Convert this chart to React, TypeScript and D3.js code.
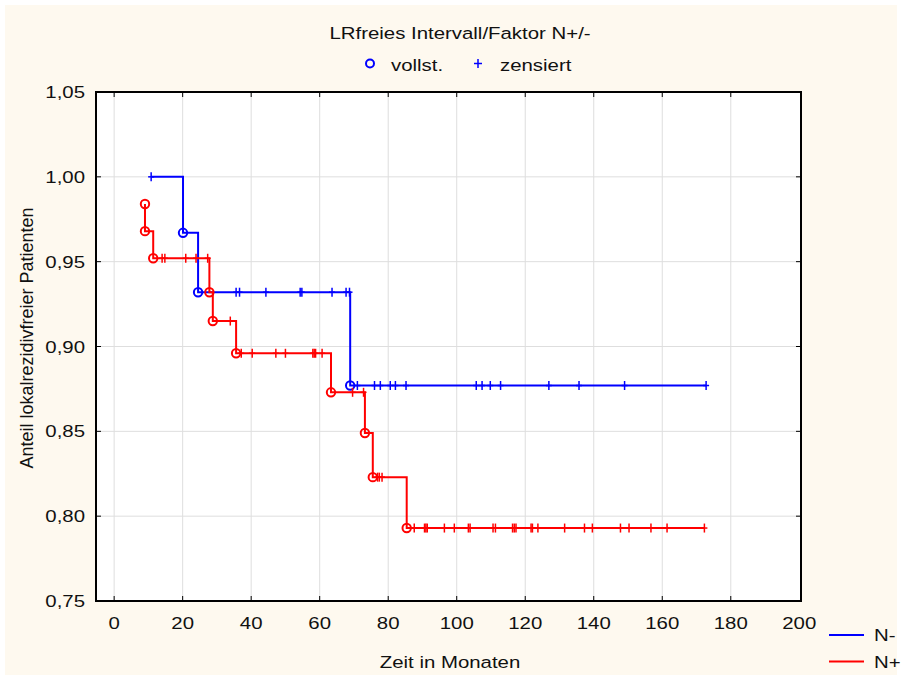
import React from "react";
import * as d3 from "d3";

// Kaplan-Meier steps: [time in months, proportion free of local recurrence]
const stepsNeg: [number, number][] = [
  [10.8, 1.0],
  [20.1, 0.967],
  [24.5, 0.932],
  [68.9, 0.877],
];
const endNeg = 172.8;
const censoredNeg = [
  10.8, 35.6, 36.6, 44.3, 54.3, 54.8, 63.6, 67.7, 68.7, 71.0, 76.0, 77.7, 80.6,
  82.1, 85.2, 105.7, 107.4, 109.8, 112.8, 126.9, 135.7, 149.0, 172.8,
];

const stepsPos: [number, number][] = [
  [9.0, 0.984],
  [9.0, 0.968],
  [11.4, 0.952],
  [27.8, 0.932],
  [28.8, 0.915],
  [35.6, 0.896],
  [63.3, 0.873],
  [73.2, 0.849],
  [75.5, 0.823],
  [85.4, 0.793],
];
const endPos = 172.4;
const censoredPos = [
  14.0, 14.8, 20.9, 23.9, 27.3, 33.9, 37.1, 40.3, 47.2, 50.0, 58.0, 58.4, 58.8,
  60.7, 69.6, 72.8, 76.9, 77.4, 78.2, 87.6, 90.6, 91.0, 91.4, 96.4, 99.3, 103.4,
  103.9, 110.6, 111.3, 116.3, 116.8, 117.3, 121.7, 122.1, 123.7, 131.5, 137.3,
  139.6, 147.8, 150.3, 156.7, 161.4, 172.3,
];

const xTicks = [0, 20, 40, 60, 80, 100, 120, 140, 160, 180, 200];
const yTicks = [0.75, 0.8, 0.85, 0.9, 0.95, 1.0, 1.05];

const series = [
  { name: "N-", color: "#0000ff", steps: stepsNeg, end: endNeg, censored: censoredNeg },
  { name: "N+", color: "#ff0000", steps: stepsPos, end: endPos, censored: censoredPos },
];

const W = 902;
const H = 680;
const plot = { left: 96, right: 801, top: 92, bottom: 601 };
const FONT = "'Liberation Sans', Arial, sans-serif";
const SX = 1.2; // horizontal stretch of the label font

type TxtProps = {
  x: number;
  y: number;
  anchor?: "start" | "middle" | "end";
  size?: number;
  sx?: number;
  children: React.ReactNode;
};

function Txt({ x, y, anchor = "start", size = 17, sx = SX, children }: TxtProps) {
  return (
    <text
      transform={`translate(${x},${y}) scale(${sx},1)`}
      textAnchor={anchor}
      fontFamily={FONT}
      fontSize={size}
      fill="#111"
    >
      {children}
    </text>
  );
}

export default function App() {
  const x = d3.scaleLinear().domain([-5.3, 200.5]).range([plot.left, plot.right]);
  const y = d3.scaleLinear().domain([0.75, 1.05]).range([plot.bottom, plot.top]);
  const fmt = (v: number) => v.toFixed(2).replace(".", ",");

  const line = d3
    .line<[number, number]>()
    .x((d) => x(d[0]))
    .y((d) => y(d[1]))
    .curve(d3.curveStepAfter);

  // survival level in effect at time t (right-continuous step)
  const levelAt = (steps: [number, number][], t: number) => {
    let s = steps[0][1];
    for (const [ti, si] of steps) if (ti <= t) s = si;
    return s;
  };

  return (
    <svg width={W} height={H} style={{ display: "block", position: "absolute", left: 0, top: 0 }}>
      <rect x={0} y={0} width={W} height={H} fill="#ffffff" />
      <rect x={5} y={5} width={W - 10} height={H - 10} fill="#fef9ef" />
      <rect
        x={plot.left}
        y={plot.top}
        width={plot.right - plot.left}
        height={plot.bottom - plot.top}
        fill="#ffffff"
      />
      {/* grid */}
      {xTicks.filter((t) => t < 200).map((t) => (
        <line key={"gx" + t} x1={x(t)} x2={x(t)} y1={plot.top} y2={plot.bottom} stroke="#dedede" strokeWidth={1} />
      ))}
      {yTicks.slice(1, -1).map((t) => (
        <line key={"gy" + t} x1={plot.left} x2={plot.right} y1={y(t)} y2={y(t)} stroke="#dedede" strokeWidth={1} />
      ))}
      {/* curves */}
      {series.map((s) => {
        const pts: [number, number][] = [...s.steps, [s.end, s.steps[s.steps.length - 1][1]]];
        return (
          <g key={s.name}>
            <path d={line(pts) || ""} fill="none" stroke={s.color} strokeWidth={2} />
            {s.censored.map((t, i) => {
              const cy = y(levelAt(s.steps, t));
              return (
                <g key={i}>
                  <line x1={x(t)} x2={x(t)} y1={cy - 4.5} y2={cy + 4.5} stroke={s.color} strokeWidth={1.5} />
                  <line x1={x(t) - 3} x2={x(t) + 3} y1={cy} y2={cy} stroke={s.color} strokeWidth={1.5} />
                </g>
              );
            })}
            {s.steps
              .filter((d) => d[0] !== s.censored[0] || d[1] !== 1.0)
              .map((d, i) => (
                <circle key={"c" + i} cx={x(d[0])} cy={y(d[1])} r={4.2} fill="none" stroke={s.color} strokeWidth={2} />
              ))}
          </g>
        );
      })}
      {/* frame and ticks */}
      <rect
        x={plot.left}
        y={plot.top}
        width={plot.right - plot.left}
        height={plot.bottom - plot.top}
        fill="none"
        stroke="#000"
        strokeWidth={2}
      />
      {xTicks.filter((t) => t < 200).map((t) => (
        <g key={"tx" + t}>
          <line x1={x(t)} x2={x(t)} y1={plot.bottom} y2={plot.bottom - 5} stroke="#000" strokeWidth={1} />
          <line x1={x(t)} x2={x(t)} y1={plot.top} y2={plot.top + 5} stroke="#000" strokeWidth={1} />
        </g>
      ))}
      {xTicks.map((t) => (
        <Txt key={"lx" + t} x={x(t)} y={629} anchor="middle">
          {t}
        </Txt>
      ))}
      {yTicks.slice(1, -1).map((t) => (
        <g key={"ty" + t}>
          <line x1={plot.left} x2={plot.left + 5} y1={y(t)} y2={y(t)} stroke="#000" strokeWidth={1} />
          <line x1={plot.right} x2={plot.right - 5} y1={y(t)} y2={y(t)} stroke="#000" strokeWidth={1} />
        </g>
      ))}
      {yTicks.map((t) => (
        <Txt key={"ly" + t} x={85} y={y(t) + 6} anchor="end">
          {fmt(t)}
        </Txt>
      ))}
      {/* titles */}
      <Txt x={460} y={39} anchor="middle">
        LRfreies Intervall/Faktor N+/-
      </Txt>
      <circle cx={370} cy={63.5} r={4} fill="none" stroke="#0000ff" strokeWidth={2} />
      <Txt x={391} y={71}>vollst.</Txt>
      <line x1={478} x2={478} y1={59} y2={68} stroke="#0000ff" strokeWidth={1.5} />
      <line x1={474} x2={482} y1={63.5} y2={63.5} stroke="#0000ff" strokeWidth={1.5} />
      <Txt x={500} y={71}>zensiert</Txt>
      <text
        transform="translate(33,338) rotate(-90)"
        textAnchor="middle"
        fontFamily={FONT}
        fontSize={18}
        fill="#111"
      >
        Anteil lokalrezidivfreier Patienten
      </text>
      <Txt x={450} y={668} anchor="middle">
        Zeit in Monaten
      </Txt>
      {/* legend */}
      {series.map((s, i) => (
        <g key={"lg" + s.name}>
          <line x1={829} x2={864} y1={635 + i * 26.5} y2={635 + i * 26.5} stroke={s.color} strokeWidth={2} />
          <Txt x={874} y={641 + i * 26.5}>{s.name}</Txt>
        </g>
      ))}
    </svg>
  );
}
